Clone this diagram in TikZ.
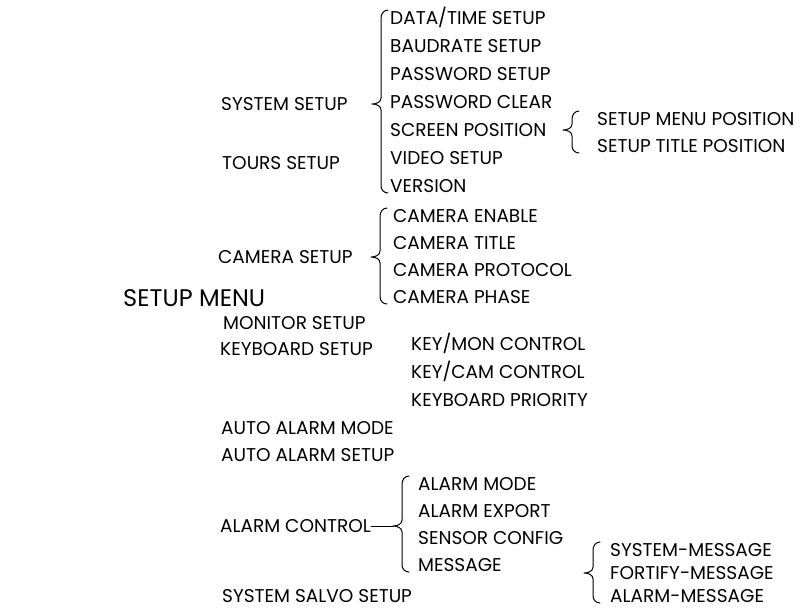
\documentclass[tikz,border=0pt]{standalone}
\usepackage{fontspec}
\setmainfont{Poppins}
\usetikzlibrary{positioning,calc}
\tikzset{
    menuitem/.style={anchor=west, inner sep=0pt, text height=13pt, text depth=0pt, font=\fontsize{18.5}{20}\selectfont},
    menuroot/.style={menuitem, text height=17pt, font=\fontsize{24}{26}\selectfont},
    nextitem/.style={below=of #1.west, anchor=west},
    menubracepath/.style={draw, line width=1pt, line cap=round, line join=round}
}
% brace: tip level, first child, last child, gap from children to the brace line
\newcommand{\menubrace}[4]{%
    \draw[menubracepath] let \p1=(#1), \p2=([xshift=-#4]#2.west), \p3=(#3.west) in
        (\x2+7pt,\y2+8pt) to[out=180,in=90] (\x2,\y2) -- (\x2,\y1+6pt)
        to[out=-90,in=0] (\x2-9pt,\y1) coordinate (bracetip)
        to[out=0,in=90] (\x2,\y1-6pt) -- (\x2,\y3)
        to[out=-90,in=180] (\x2+7pt,\y3-7pt);}

\begin{document}
\begin{tikzpicture}[x=1pt, y=-1pt, node distance=28pt]
    \useasboundingbox (0,0) rectangle (805,611);

    \node[menuroot] (root) at (123,298) {SETUP MENU};

    % first level
    \node[menuitem] (sysset) at (221,104) {SYSTEM SETUP};
    \node[menuitem] (tours) at (222,163) {TOURS SETUP};
    \node[menuitem] (camset) at (218,257) {CAMERA SETUP};
    \node[menuitem] (monset) at (223,323) {MONITOR SETUP};
    \node[menuitem] (kbdset) at (220,349) {KEYBOARD SETUP};
    \node[menuitem] (automode) at (221,428) {AUTO ALARM MODE};
    \node[menuitem] (autoset) at (221,455) {AUTO ALARM SETUP};
    \node[menuitem] (alarmctl) at (220,526) {ALARM CONTROL};
    \node[menuitem] (salvo) at (222,596) {SYSTEM SALVO SETUP};

    % system setup
    \node[menuitem] (datetime) at (390,18) {DATA/TIME SETUP};
    \node[menuitem, nextitem=datetime] (baud) {BAUDRATE SETUP};
    \node[menuitem, nextitem=baud] (pwset) {PASSWORD SETUP};
    \node[menuitem, nextitem=pwset] (pwclr) {PASSWORD CLEAR};
    \node[menuitem, nextitem=pwclr] (screen) {SCREEN POSITION};
    \node[menuitem, nextitem=screen] (video) {VIDEO SETUP};
    \node[menuitem, nextitem=video] (version) {VERSION};

    \node[menuitem] (menupos) at (597,119) {SETUP MENU POSITION};
    \node[menuitem, node distance=27pt, nextitem=menupos] (titlepos) {SETUP TITLE POSITION};

    % camera setup
    \node[menuitem] (camenable) at (393,216) {CAMERA ENABLE};
    \node[menuitem, node distance=27pt, nextitem=camenable] (camtitle) {CAMERA TITLE};
    \node[menuitem, node distance=27pt, nextitem=camtitle] (camproto) {CAMERA PROTOCOL};
    \node[menuitem, node distance=27pt, nextitem=camproto] (camphase) {CAMERA PHASE};

    % keyboard setup
    \node[menuitem] (keymon) at (411,344) {KEY/MON CONTROL};
    \node[menuitem, nextitem=keymon] (keycam) {KEY/CAM CONTROL};
    \node[menuitem, nextitem=keycam] (kbdprio) {KEYBOARD PRIORITY};

    % alarm control
    \node[menuitem] (alarmmode) at (418,484) {ALARM MODE};
    \node[menuitem, node distance=27pt, nextitem=alarmmode] (alarmexp) {ALARM EXPORT};
    \node[menuitem, node distance=27pt, nextitem=alarmexp] (sensor) {SENSOR CONFIG};
    \node[menuitem, node distance=27pt, nextitem=sensor] (message) {MESSAGE};

    \node[menuitem] (sysmsg) at (610,550) {SYSTEM-MESSAGE};
    \node[menuitem, node distance=23pt, nextitem=sysmsg] (fortmsg) {FORTIFY-MESSAGE};
    \node[menuitem, node distance=23pt, nextitem=fortmsg] (alarmmsg) {ALARM-MESSAGE};

    \menubrace{sysset.east}{datetime}{version}{9pt}
    \menubrace{screen.east}{menupos}{titlepos}{25pt}
    \menubrace{camset.east}{camenable}{camphase}{13pt}
    \menubrace{alarmctl.east}{alarmmode}{message}{16pt}
    \draw[menubracepath] (alarmctl.east) -- (bracetip);
    \menubrace{message.east |- fortmsg.west}{sysmsg}{alarmmsg}{17pt}
\end{tikzpicture}
\end{document}
